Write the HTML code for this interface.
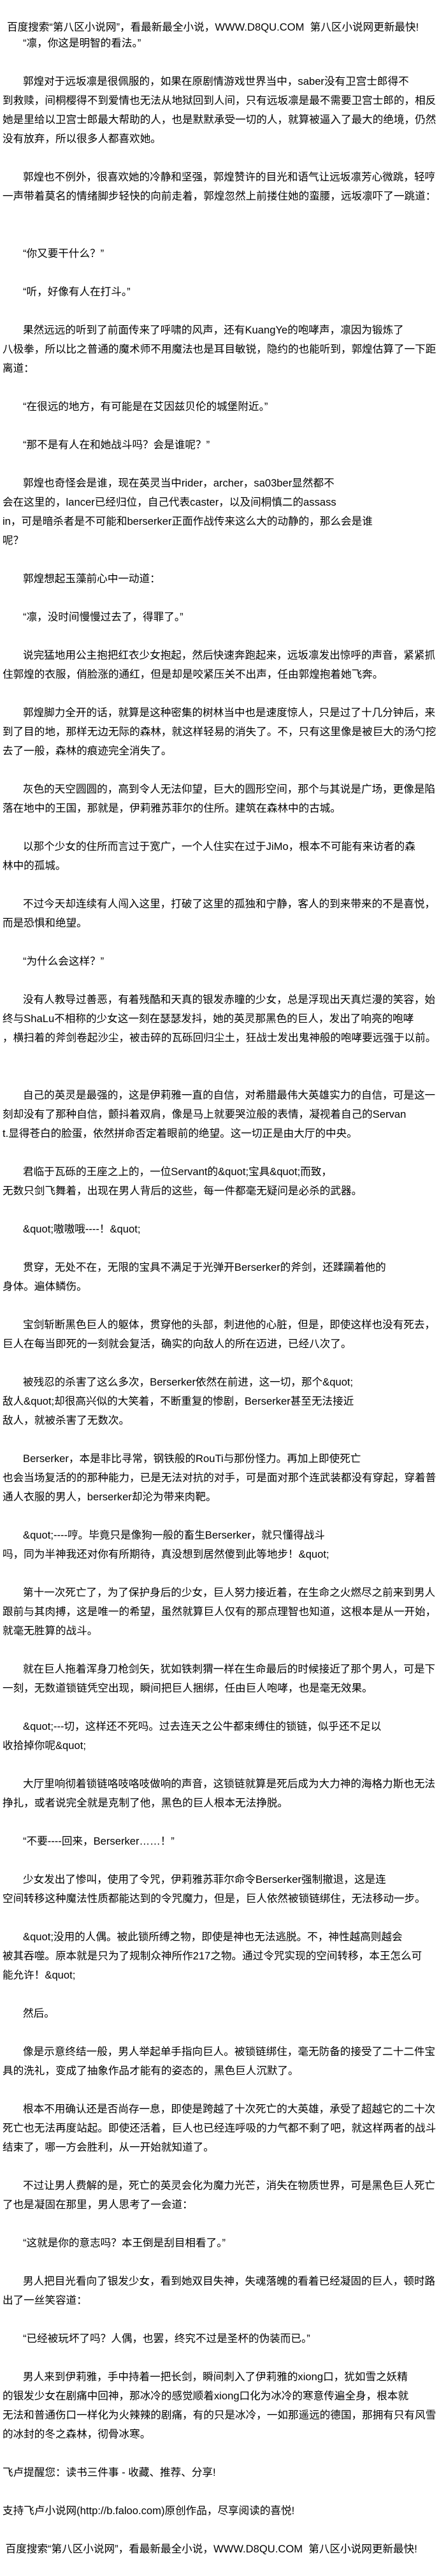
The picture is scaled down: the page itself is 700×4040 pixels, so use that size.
<!DOCTYPE html>
<html><head><meta charset="utf-8">
<style>
html,body{margin:0;padding:0;background:#fff;}
body{width:700px;height:4040px;position:relative;overflow:hidden;
font-family:"Liberation Sans","Noto Sans CJK SC",sans-serif;font-size:16.6px;color:#000;}
#hd{position:absolute;left:11px;top:28px;line-height:30px;white-space:pre;}
#c{position:absolute;left:4px;top:53px;line-height:30px;white-space:pre;width:696px;}
i{display:inline-block;width:32px;}
</style></head><body>
<div id="hd">百度搜索“第八区小说网”，看最新最全小说，WWW.D8QU.COM  第八区小说网更新最快!</div>
<div id="c"><i></i>“凛，你这是明智的看法。”

<i></i>郭煌对于远坂凛是很佩服的，如果在原剧情游戏世界当中，saber没有卫宫士郎得不
到救赎，间桐樱得不到爱情也无法从地狱回到人间，只有远坂凛是最不需要卫宫士郎的，相反
她是里给以卫宫士郎最大帮助的人，也是默默承受一切的人，就算被逼入了最大的绝境，仍然
没有放弃，所以很多人都喜欢她。

<i></i>郭煌也不例外，很喜欢她的冷静和坚强，郭煌赞许的目光和语气让远坂凛芳心微跳，轻哼
一声带着莫名的情绪脚步轻快的向前走着，郭煌忽然上前搂住她的蛮腰，远坂凛吓了一跳道：


<i></i>“你又要干什么？”

<i></i>“听，好像有人在打斗。”

<i></i>果然远远的听到了前面传来了呼啸的风声，还有KuangYe的咆哮声，凛因为锻炼了
八极拳，所以比之普通的魔术师不用魔法也是耳目敏锐，隐约的也能听到，郭煌估算了一下距
离道：

<i></i>“在很远的地方，有可能是在艾因兹贝伦的城堡附近。”

<i></i>“那不是有人在和她战斗吗？会是谁呢？”

<i></i>郭煌也奇怪会是谁，现在英灵当中rider，archer，sa03ber显然都不
会在这里的，lancer已经归位，自己代表caster，以及间桐慎二的assass
in，可是暗杀者是不可能和berserker正面作战传来这么大的动静的，那么会是谁
呢？

<i></i>郭煌想起玉藻前心中一动道：

<i></i>“凛，没时间慢慢过去了，得罪了。”

<i></i>说完猛地用公主抱把红衣少女抱起，然后快速奔跑起来，远坂凛发出惊呼的声音，紧紧抓
住郭煌的衣服，俏脸涨的通红，但是却是咬紧压关不出声，任由郭煌抱着她飞奔。

<i></i>郭煌脚力全开的话，就算是这种密集的树林当中也是速度惊人，只是过了十几分钟后，来
到了目的地，那样无边无际的森林，就这样轻易的消失了。不，只有这里像是被巨大的汤勺挖
去了一般，森林的痕迹完全消失了。

<i></i>灰色的天空圆圆的，高到令人无法仰望，巨大的圆形空间，那个与其说是广场，更像是陷
落在地中的王国，那就是，伊莉雅苏菲尔的住所。建筑在森林中的古城。

<i></i>以那个少女的住所而言过于宽广，一个人住实在过于JiMo，根本不可能有来访者的森
林中的孤城。

<i></i>不过今天却连续有人闯入这里，打破了这里的孤独和宁静，客人的到来带来的不是喜悦，
而是恐惧和绝望。

<i></i>“为什么会这样？”

<i></i>没有人教导过善恶，有着残酷和天真的银发赤瞳的少女，总是浮现出天真烂漫的笑容，始
终与ShaLu不相称的少女这一刻在瑟瑟发抖，她的英灵那黑色的巨人，发出了响亮的咆哮
，横扫着的斧剑卷起沙尘，被击碎的瓦砾回归尘土，狂战士发出鬼神般的咆哮要远强于以前。


<i></i>自己的英灵是最强的，这是伊莉雅一直的自信，对希腊最伟大英雄实力的自信，可是这一
刻却没有了那种自信，颤抖着双肩，像是马上就要哭泣般的表情，凝视着自己的Servan
t.显得苍白的脸蛋，依然拼命否定着眼前的绝望。这一切正是由大厅的中央。

<i></i>君临于瓦砾的王座之上的，一位Servant的&amp;quot;宝具&amp;quot;而致，
无数只剑飞舞着，出现在男人背后的这些，每一件都毫无疑问是必杀的武器。

<i></i>&amp;quot;嗷嗷哦----！&amp;quot;

<i></i>贯穿，无处不在，无限的宝具不满足于光弹开Berserker的斧剑，还蹂躏着他的
身体。遍体鳞伤。

<i></i>宝剑斩断黑色巨人的躯体，贯穿他的头部，刺进他的心脏，但是，即使这样也没有死去，
巨人在每当即死的一刻就会复活，确实的向敌人的所在迈进，已经八次了。

<i></i>被残忍的杀害了这么多次，Berserker依然在前进，这一切，那个&amp;quot;
敌人&amp;quot;却很高兴似的大笑着，不断重复的惨剧，Berserker甚至无法接近
敌人，就被杀害了无数次。

<i></i>Berserker，本是非比寻常，钢铁般的RouTi与那份怪力。再加上即使死亡
也会当场复活的的那种能力，已是无法对抗的对手，可是面对那个连武装都没有穿起，穿着普
通人衣服的男人，berserker却沦为带来肉靶。

<i></i>&amp;quot;----哼。毕竟只是像狗一般的畜生Berserker，就只懂得战斗
吗，同为半神我还对你有所期待，真没想到居然傻到此等地步！&amp;quot;

<i></i>第十一次死亡了，为了保护身后的少女，巨人努力接近着，在生命之火燃尽之前来到男人
跟前与其肉搏，这是唯一的希望，虽然就算巨人仅有的那点理智也知道，这根本是从一开始，
就毫无胜算的战斗。

<i></i>就在巨人拖着浑身刀枪剑矢，犹如铁刺猬一样在生命最后的时候接近了那个男人，可是下
一刻，无数道锁链凭空出现，瞬间把巨人捆绑，任由巨人咆哮，也是毫无效果。

<i></i>&amp;quot;---切，这样还不死吗。过去连天之公牛都束缚住的锁链，似乎还不足以
收拾掉你呢&amp;quot;

<i></i>大厅里响彻着锁链咯吱咯吱做响的声音，这锁链就算是死后成为大力神的海格力斯也无法
挣扎，或者说完全就是克制了他，黑色的巨人根本无法挣脱。

<i></i>“不要----回来，Berserker……！”

<i></i>少女发出了惨叫，使用了令咒，伊莉雅苏菲尔命令Berserker强制撤退，这是连
空间转移这种魔法性质都能达到的令咒魔力，但是，巨人依然被锁链绑住，无法移动一步。

<i></i>&amp;quot;没用的人偶。被此锁所缚之物，即使是神也无法逃脱。不，神性越高则越会
被其吞噬。原本就是只为了规制众神所作217之物。通过令咒实现的空间转移，本王怎么可
能允许！&amp;quot;

<i></i>然后。

<i></i>像是示意终结一般，男人举起单手指向巨人。被锁链绑住，毫无防备的接受了二十二件宝
具的洗礼，变成了抽象作品才能有的姿态的，黑色巨人沉默了。

<i></i>根本不用确认还是否尚存一息，即使是跨越了十次死亡的大英雄，承受了超越它的二十次
死亡也无法再度站起。即使还活着，巨人也已经连呼吸的力气都不剩了吧，就这样两者的战斗
结束了，哪一方会胜利，从一开始就知道了。

<i></i>不过让男人费解的是，死亡的英灵会化为魔力光芒，消失在物质世界，可是黑色巨人死亡
了也是凝固在那里，男人思考了一会道：

<i></i>“这就是你的意志吗？本王倒是刮目相看了。”

<i></i>男人把目光看向了银发少女，看到她双目失神，失魂落魄的看着已经凝固的巨人，顿时路
出了一丝笑容道：

<i></i>“已经被玩坏了吗？人偶，也罢，终究不过是圣杯的伪装而已。”

<i></i>男人来到伊莉雅，手中持着一把长剑，瞬间刺入了伊莉雅的xiong口，犹如雪之妖精
的银发少女在剧痛中回神，那冰冷的感觉顺着xiong口化为冰冷的寒意传遍全身，根本就
无法和普通伤口一样化为火辣辣的剧痛，有的只是冰冷，一如那遥远的德国，那拥有只有风雪
的冰封的冬之森林，彻骨冰寒。

飞卢提醒您：读书三件事 - 收藏、推荐、分享!

支持飞卢小说网(http://b.faloo.com)原创作品，尽享阅读的喜悦!

 百度搜索“第八区小说网”，看最新最全小说，WWW.D8QU.COM  第八区小说网更新最快!</div>
</body></html>
